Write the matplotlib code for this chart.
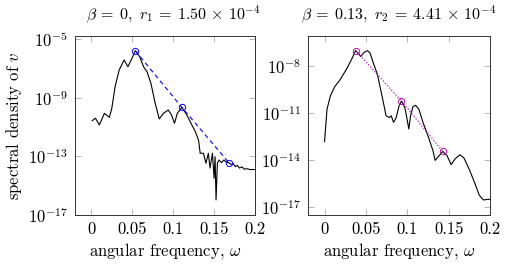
import matplotlib
matplotlib.use("Agg")
import matplotlib.pyplot as plt
import numpy as np

plt.rcParams['font.family'] = 'serif'
plt.rcParams['font.serif'] = ['cmr10', 'DejaVu Serif']
plt.rcParams['mathtext.fontset'] = 'cm'
plt.rcParams['axes.formatter.use_mathtext'] = True
plt.rcParams['axes.unicode_minus'] = False

# left panel: beta = 0 (log10 of spectral density)
w1 = [0.001, 0.005, 0.0098, 0.0159, 0.022, 0.025, 0.029, 0.034, 0.040, 0.0447,
      0.0496, 0.0537, 0.059, 0.0638, 0.068, 0.0728, 0.078, 0.083, 0.088, 0.094,
      0.098, 0.1016, 0.105, 0.1106, 0.1167, 0.1228, 0.127, 0.131, 0.133, 0.137,
      0.140, 0.143, 0.145, 0.148, 0.150, 0.1512, 0.1524, 0.154, 0.156, 0.159,
      0.162, 0.165, 0.168, 0.1705, 0.1735, 0.176, 0.1785, 0.181, 0.184, 0.187,
      0.190, 0.194, 0.2]
s1 = [-10.57, -10.40, -10.86, -10.07, -10.34, -9.72, -8.25, -7.11, -6.43, -6.89,
      -6.32, -5.80, -6.20, -6.89, -7.23, -8.02, -9.38, -10.45, -10.07, -9.84,
      -10.18, -10.75, -10.07, -9.66, -10.18, -10.86, -11.3, -11.9, -12.79, -12.79,
      -13.47, -12.79, -13.80, -12.79, -14.50, -13.02, -15.97, -13.47, -13.25, -13.43,
      -13.25, -13.40, -13.43, -13.55, -13.50, -13.70, -13.62, -13.80, -13.72, -13.88,
      -13.84, -13.90, -13.90]
w1_pts = [0.0537, 0.1106, 0.168]
s1_pts = [-5.80, -9.66, -13.43]

# right panel: beta = 0.13
w2 = [0.0, 0.003, 0.007, 0.0123, 0.019, 0.0274, 0.0335, 0.0376, 0.0438, 0.048,
      0.052, 0.055, 0.059, 0.064, 0.0695, 0.0744, 0.0785, 0.0806, 0.0834, 0.0867,
      0.090, 0.093, 0.097, 0.09975, 0.1018, 0.1043, 0.107, 0.110, 0.114, 0.119,
      0.1256, 0.131, 0.1337, 0.137, 0.143, 0.148, 0.153, 0.158, 0.1636, 0.1685,
      0.1746, 0.181, 0.187, 0.192, 0.197, 0.2]
s2 = [-12.81, -10.74, -9.90, -9.30, -8.84, -8.10, -7.47, -6.99, -7.37, -7.10,
      -7.00, -7.15, -7.79, -8.53, -9.90, -11.16, -11.27, -11.16, -11.58, -11.27,
      -10.53, -10.22, -10.63, -11.37, -12.00, -11.06, -10.57, -10.49, -10.74, -11.58,
      -12.53, -13.38, -14.01, -13.80, -13.44, -13.70, -14.28, -13.90, -13.65, -13.86,
      -14.54, -15.38, -16.23, -16.54, -16.50, -16.50]
w2_pts = [0.0376, 0.093, 0.143]
s2_pts = [-6.99, -10.22, -13.44]

xticks = [0, 0.05, 0.1, 0.15, 0.2]
xticklabels = ['0', '0.05', '0.1', '0.15', '0.2']

fig = plt.figure(figsize=(5.06, 2.64), dpi=100)
ax1 = fig.add_axes([75/506, 49/264, 180/506, 179.5/264])
ax2 = fig.add_axes([308/506, 49/264, 182/506, 179.5/264])


def style(ax, yt, ylim):
    ax.set_yscale('log')
    ax.set_xlim(-0.02, 0.2)
    ax.set_ylim(10.0**ylim[0], 10.0**ylim[1])
    ax.set_xticks(xticks)
    ax.set_xticklabels(xticklabels)
    ax.set_yticks([10.0**e for e in yt])
    ax.set_yticklabels([r'$10^{%d}$' % e for e in yt])
    ax.minorticks_off()
    ax.tick_params(direction='in', length=4, width=0.6, color='#aaaaaa',
                   top=True, right=True, labelsize=12, pad=5)
    for sp in ax.spines.values():
        sp.set_linewidth(0.7)
        sp.set_color('#333333')
    ax.set_xlabel(r'angular frequency, $\omega$', fontsize=12, labelpad=3)


ax1.plot(w1, 10.0**np.array(s1), color='black', lw=0.8)
ax1.plot(w1_pts, 10.0**np.array(s1_pts), color='blue', lw=0.8, ls=(0, (4, 3)),
         marker='o', mfc='none', mec='blue', ms=4.5, mew=0.7)
style(ax1, [-5, -9, -13, -17], (-17.0, -4.76))
ax1.set_ylabel(r'spectral density of $v$', fontsize=12, labelpad=3)
ax1.set_title(r'$\beta\:=\:0,\ r_1\:=\:1.50\,\times\,10^{-4}$', fontsize=11.5,
              pad=12, x=0.545)

ax2.plot(w2, 10.0**np.array(s2), color='black', lw=0.8)
ax2.plot(w2_pts, 10.0**np.array(s2_pts), color='#b010b0', lw=0.9, ls=(0, (1, 1.5)),
         marker='o', mfc='none', mec='#b010b0', ms=4.5, mew=0.7)
style(ax2, [-8, -11, -14, -17], (-17.5, -6.03))
ax2.set_title(r'$\beta\:=\:0.13,\ r_2\:=\:4.41\,\times\,10^{-4}$', fontsize=11.5,
              pad=12, x=0.5)

fig.savefig('out.png', dpi=100)
